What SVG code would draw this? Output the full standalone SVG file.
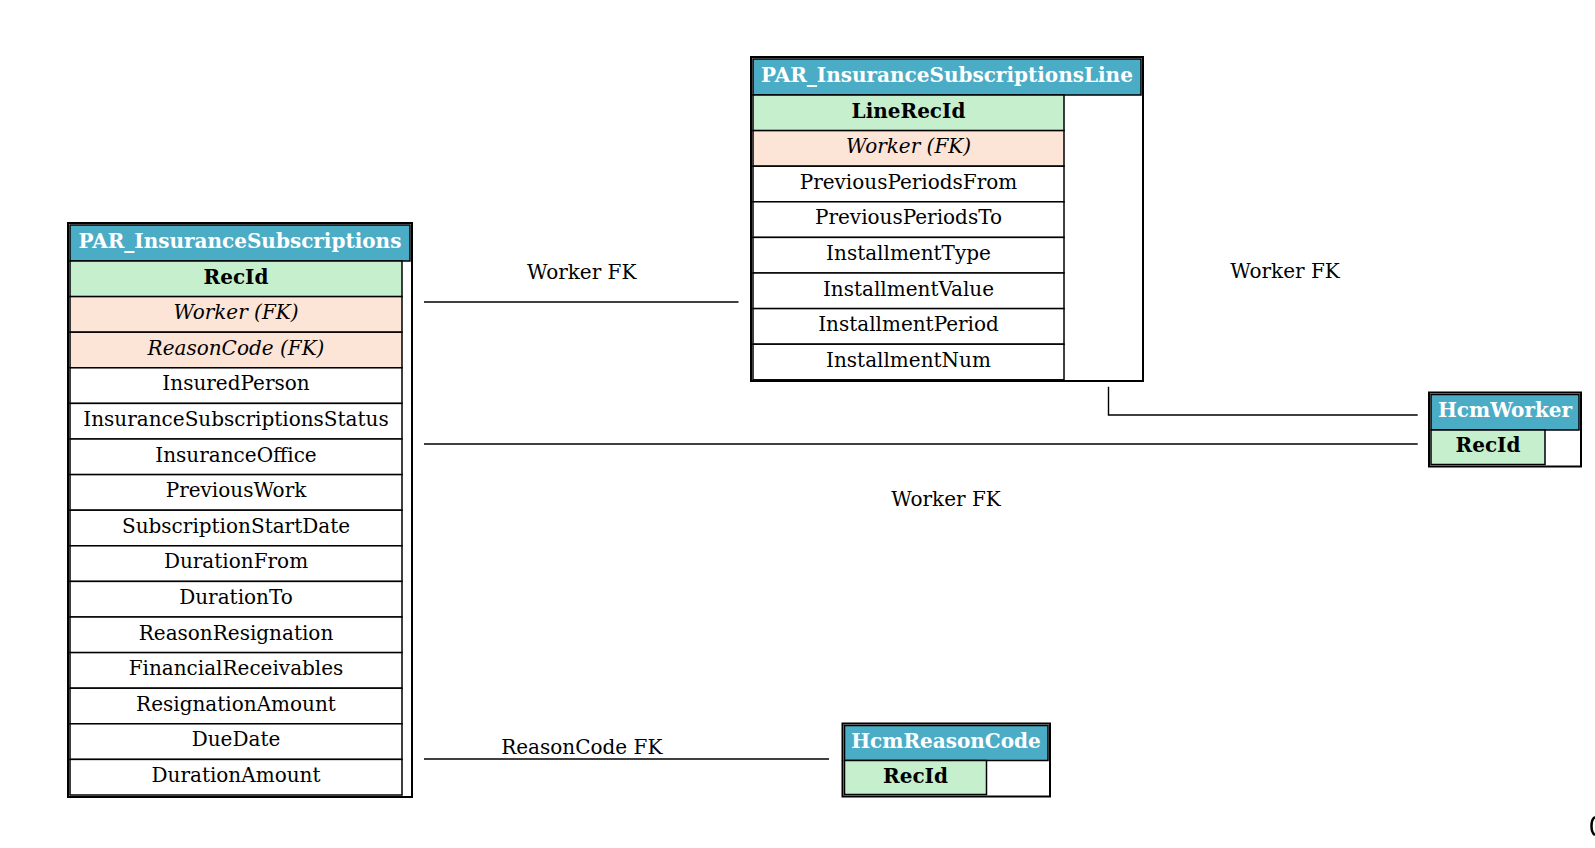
<svg xmlns="http://www.w3.org/2000/svg" width="1595" height="848" viewBox="0 0 1595 848">
<style>
text{font-family:"DejaVu Serif",serif;font-size:20px;fill:#000;text-anchor:middle}
.hd{font-weight:bold;fill:#fff}
.pk{font-weight:bold}
.fk{font-style:italic}
.tbl{fill:#fff;stroke:#000;stroke-width:2}
.h{fill:#4BACC6;stroke:#000;stroke-width:1.5}
.c{fill:#fff;stroke:#000;stroke-width:1.5}
.g{fill:#C6EFCE;stroke:#000;stroke-width:1.5}
.p{fill:#FCE4D6;stroke:#000;stroke-width:1.5}
.e{fill:none;stroke:#000;stroke-width:1.4}
</style>
<rect width="1595" height="848" fill="#fff"/>
<g id="edges">
<line class="e" x1="424" y1="302" x2="738.5" y2="302"/>
<text x="581.7" y="279">Worker FK</text>
<polyline class="e" points="1108.5,386.7 1108.5,415 1417.7,415"/>
<text x="1285" y="278.3">Worker FK</text>
<line class="e" x1="424" y1="444" x2="1417.7" y2="444"/>
<text x="946" y="505.7">Worker FK</text>
<line class="e" x1="424" y1="759" x2="829" y2="759"/>
<text x="581.8" y="754">ReasonCode FK</text>
</g>
<g id="PAR_InsuranceSubscriptions">
<rect class="tbl" x="68" y="223" width="344" height="574"/>
<rect class="h" x="70" y="225" width="340" height="36"/>
<text class="hd" x="240" y="247.5">PAR_InsuranceSubscriptions</text>
<rect class="g" x="70" y="261" width="332" height="35.6"/>
<text class="pk" x="236" y="283.5">RecId</text>
<rect class="p" x="70" y="296.6" width="332" height="35.6"/>
<text class="fk" x="236" y="319.1">Worker (FK)</text>
<rect class="p" x="70" y="332.2" width="332" height="35.6"/>
<text class="fk" x="236" y="354.7">ReasonCode (FK)</text>
<rect class="c" x="70" y="367.8" width="332" height="35.6"/>
<text x="236" y="390.3">InsuredPerson</text>
<rect class="c" x="70" y="403.4" width="332" height="35.6"/>
<text x="236" y="425.9">InsuranceSubscriptionsStatus</text>
<rect class="c" x="70" y="439" width="332" height="35.6"/>
<text x="236" y="461.5">InsuranceOffice</text>
<rect class="c" x="70" y="474.6" width="332" height="35.6"/>
<text x="236" y="497.1">PreviousWork</text>
<rect class="c" x="70" y="510.2" width="332" height="35.6"/>
<text x="236" y="532.7">SubscriptionStartDate</text>
<rect class="c" x="70" y="545.8" width="332" height="35.6"/>
<text x="236" y="568.3">DurationFrom</text>
<rect class="c" x="70" y="581.4" width="332" height="35.6"/>
<text x="236" y="603.9">DurationTo</text>
<rect class="c" x="70" y="617" width="332" height="35.6"/>
<text x="236" y="639.5">ReasonResignation</text>
<rect class="c" x="70" y="652.6" width="332" height="35.6"/>
<text x="236" y="675.1">FinancialReceivables</text>
<rect class="c" x="70" y="688.2" width="332" height="35.6"/>
<text x="236" y="710.7">ResignationAmount</text>
<rect class="c" x="70" y="723.8" width="332" height="35.6"/>
<text x="236" y="746.3">DueDate</text>
<rect class="c" x="70" y="759.4" width="332" height="35.6"/>
<text x="236" y="781.9">DurationAmount</text>
</g>
<g id="PAR_InsuranceSubscriptionsLine">
<rect class="tbl" x="751" y="57" width="392" height="324"/>
<rect class="h" x="753" y="59" width="388" height="36"/>
<text class="hd" x="947" y="81.5">PAR_InsuranceSubscriptionsLine</text>
<rect class="g" x="753" y="95" width="311" height="35.6"/>
<text class="pk" x="908.5" y="117.5">LineRecId</text>
<rect class="p" x="753" y="130.6" width="311" height="35.6"/>
<text class="fk" x="908.5" y="153.1">Worker (FK)</text>
<rect class="c" x="753" y="166.2" width="311" height="35.6"/>
<text x="908.5" y="188.7">PreviousPeriodsFrom</text>
<rect class="c" x="753" y="201.8" width="311" height="35.6"/>
<text x="908.5" y="224.3">PreviousPeriodsTo</text>
<rect class="c" x="753" y="237.4" width="311" height="35.6"/>
<text x="908.5" y="259.9">InstallmentType</text>
<rect class="c" x="753" y="273" width="311" height="35.6"/>
<text x="908.5" y="295.5">InstallmentValue</text>
<rect class="c" x="753" y="308.6" width="311" height="35.6"/>
<text x="908.5" y="331.1">InstallmentPeriod</text>
<rect class="c" x="753" y="344.2" width="311" height="35.6"/>
<text x="908.5" y="366.7">InstallmentNum</text>
</g>
<g id="HcmWorker">
<rect class="tbl" x="1429" y="392.5" width="152" height="74"/>
<rect class="h" x="1431" y="394.5" width="148" height="35.5"/>
<text class="hd" x="1505" y="416.5">HcmWorker</text>
<rect class="g" x="1431" y="430" width="114" height="34.5"/>
<text class="pk" x="1488" y="452">RecId</text>
</g>
<g id="HcmReasonCode">
<rect class="tbl" x="842.5" y="723.5" width="207.5" height="73"/>
<rect class="h" x="844.5" y="725.5" width="203.5" height="35"/>
<text class="hd" x="946" y="747.5">HcmReasonCode</text>
<rect class="g" x="844.5" y="760.5" width="142" height="34"/>
<text class="pk" x="915.5" y="782.5">RecId</text>
</g>
<path d="M1595,817 Q1591.5,819 1591.5,826 Q1591.5,833 1595,835" fill="none" stroke="#000" stroke-width="2.5"/>
</svg>
